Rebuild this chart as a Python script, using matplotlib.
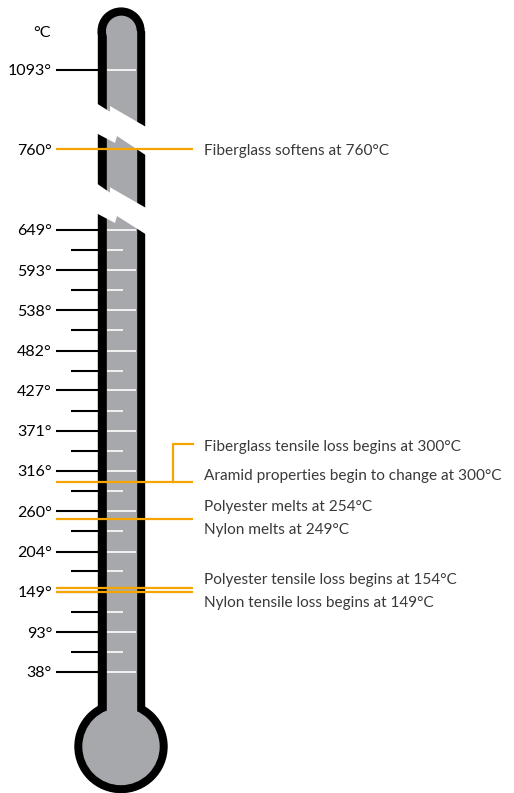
import numpy as np
import matplotlib.pyplot as plt
from matplotlib.patches import Circle, Rectangle, Polygon

# scale values (°C); major ticks are 100°F steps, minor ticks halfway
tick_temps = [38, 93, 149, 204, 260, 316, 371, 427, 482, 538, 593, 649]
tick_labels = ["38°", "93°", "149°", "204°", "260°", "316°", "371°", "427°",
               "482°", "538°", "593°", "649°"]
minor_temps = [66, 121, 177, 232, 288, 343, 399, 454, 510, 566, 621]
top_temps = [1093]
top_labels = ["1093°"]

# marked events
event_text = ["Fiberglass softens at 760°C",
              "Fiberglass tensile loss begins at 300°C",
              "Aramid properties begin to change at 300°C",
              "Polyester melts at 254°C",
              "Nylon melts at 249°C",
              "Polyester tensile loss begins at 154°C",
              "Nylon tensile loss begins at 149°C"]
event_temps = [760, 300, 300, 254, 249, 154, 149]
line_temps = [760, 300, 249, 154, 149]
line_labels = ["760°"]

ORANGE = "#F5A400"
GREY = "#A7A8AB"
TXT = "#3a3a3a"
FONT = "Lato"

# above 760°C the scale is squeezed (broken thermometer)
K = 0.332


def fwd(c):
    c = np.asarray(c, float)
    return np.where(c <= 760, c, 760 + (c - 760) * K)


def inv(f):
    f = np.asarray(f, float)
    return np.where(f <= 760, f, 760 + (f - 760) / K)


fig = plt.figure(figsize=(5.14, 7.93), dpi=100)

# thermometer body, drawn in pixel units
body = fig.add_axes([0, 0, 1, 1])
body.set_xlim(0, 514)
body.set_ylim(793, 0)
body.axis("off")

body.add_patch(Rectangle((98.2, 31), 45.8, 716, color="black"))
body.add_patch(Circle((121.1, 31), 22.9, color="black"))
body.add_patch(Circle((121, 746.5), 46, color="black"))
body.add_patch(Rectangle((106.7, 31), 29.3, 716, color=GREY))
body.add_patch(Circle((121.35, 31), 14.65, color=GREY))
body.add_patch(Circle((121, 746.5), 38, color=GREY))

# the two breaks in the tube
gaps = [
    [(96, 103), (110, 111.7), (110, 106), (147, 127.5),
     (147, 156), (117, 136), (115, 143), (96, 133)],
    [(96, 183), (110, 192.7), (110, 187.3), (147, 208.5),
     (147, 235), (117, 216), (115, 223), (96, 213)],
]
for g in gaps:
    body.add_patch(Polygon(g, closed=True, color="white", lw=0))

body.text(51, 33, "°C", ha="right", va="center", fontsize=11.5,
          family=FONT, color="black")

# scale axes in °C
ax = fig.add_axes([0, 0, 1, 1], zorder=2)
ax.patch.set_visible(False)
ax.set_yscale("function", functions=(fwd, inv))
ax.set_xlim(0, 514)
ax.set_ylim(-129.5, 1382.4)
ax.axis("off")

majors = tick_temps + top_temps
ax.hlines(majors, 56, 98.5, color="black", lw=1.5)
ax.hlines(majors, 106.7, 136, color="white", lw=1.2)
ax.hlines(minor_temps, 71, 98.5, color="black", lw=1.5)
ax.hlines(minor_temps, 106.7, 123, color="white", lw=1.2)

for t, lab in zip(majors + line_temps[:1], tick_labels + top_labels + line_labels):
    ax.text(52, t, lab, ha="right", va="center_baseline", fontsize=11.5,
            family=FONT, color="black")

ax.hlines(line_temps, 56, 192.5, color=ORANGE, lw=1.6, zorder=5)

# bracket joining the two 300°C notes
y300 = 793 - ax.transData.transform((173, 300))[1]
body.plot([173, 173, 192.5], [y300, y300 - 38, y300 - 38],
          color=ORANGE, lw=1.6, zorder=5)

label_dy = [0, 37, 8, 10, -9, 9.4, -10]
for s, t, dy in zip(event_text, event_temps, label_dy):
    ax.annotate(s, xy=(204, t), xytext=(0, dy), textcoords="offset pixels",
                ha="left", va="center_baseline", fontsize=11.1,
                family=FONT, color=TXT)

fig.savefig("out.png", dpi=100)
